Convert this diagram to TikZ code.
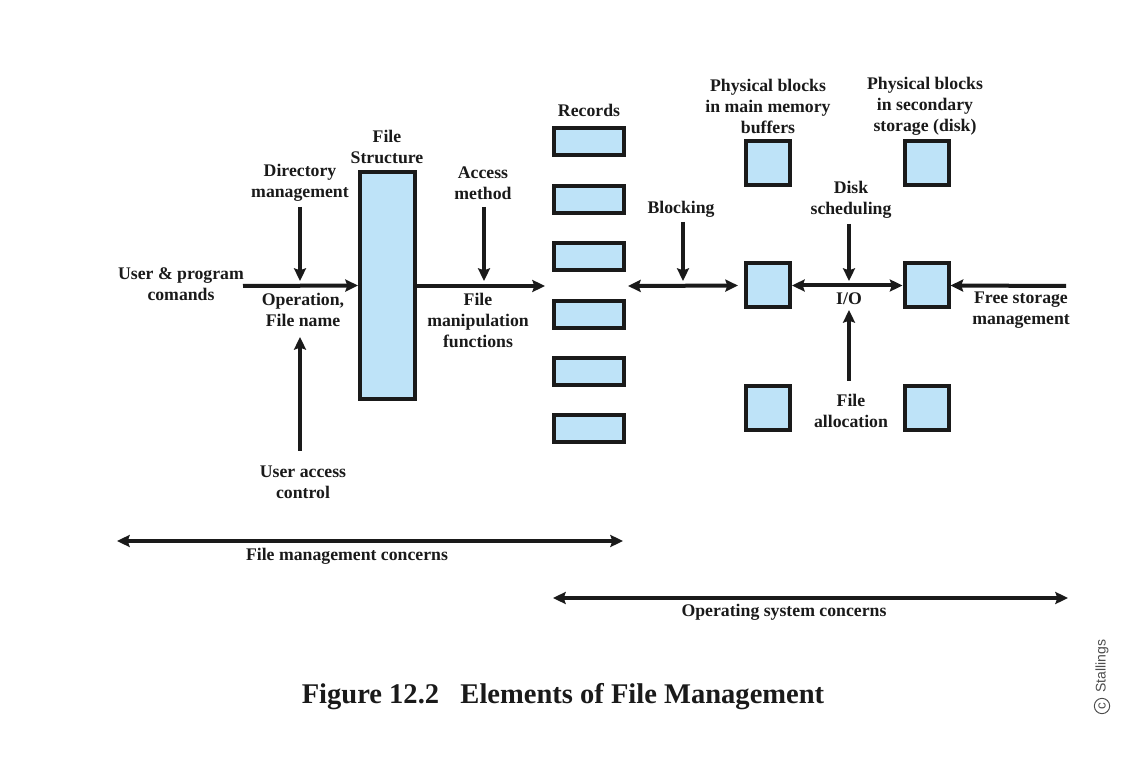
\documentclass[tikz,border=0pt]{standalone}
\usepackage{fontspec}
\setmainfont{Liberation Serif}
\setsansfont{Liberation Sans}
\usetikzlibrary{arrows.meta}
\definecolor{boxblue}{HTML}{BEE3F8}
\definecolor{ink}{HTML}{1A1A1A}
\begin{document}
\begin{tikzpicture}[x=0.75pt,y=-0.75pt,
  lbl/.style={font=\fontsize{13.3pt}{15.75pt}\selectfont\bfseries, text=ink, align=center, inner sep=0pt},
  blk/.style={draw=ink, fill=boxblue, line width=3pt, inner sep=0pt},
  rec/.style={blk, minimum width=52.5pt, minimum height=20.25pt},
  sq/.style={blk, minimum width=33pt, minimum height=33pt},
  arr/.style={draw=ink, line width=3pt, -{Stealth[length=9.5pt,width=9pt,inset=1.5pt]}},
  dbl/.style={draw=ink, line width=3pt, {Stealth[length=9.5pt,width=9pt,inset=1.5pt]}-{Stealth[length=9.5pt,width=9pt,inset=1.5pt]}}
]
\useasboundingbox (0,0) rectangle (1146,766);

% file structure column
\node[blk, minimum width=41.25pt, minimum height=170.25pt] (fs) at (387.5,285.5) {};

% records
\foreach \i/\y in {1/142,2/199.4,3/256.8,4/314.2,5/371.6,6/429}
  \node[rec] (r\i) at (589,\y) {};

% physical blocks: main memory buffers and secondary storage
\foreach \i/\y in {1/163.5,2/285.5,3/408.5}{
  \node[sq] (mem\i) at (768,\y) {};
  \node[sq] (disk\i) at (926.5,\y) {};
}

% labels
\node[lbl] (ucmd) at (181,284.5) {User \& program\\comands};
\node[lbl] (dirm) at (300,183) {Directory\\management};
\node[lbl] (fslab) at (387,147) {File\\Structure};
\node[lbl] (opfn) at (303,310) {Operation,\\File name};
\node[lbl] (uac) at (303,482) {User access\\control};
\node[lbl] (acc) at (483,183) {Access\\method};
\node[lbl] (fmf) at (478,320) {File\\manipulation\\functions};
\node[lbl] (reclab) at (589,110) {Records};
\node[lbl] (blocking) at (681,209) {Blocking};
\node[lbl] (pbm) at (768,106) {Physical blocks\\in main memory\\buffers};
\node[lbl] (pbd) at (925,106) {Physical blocks\\in secondary\\storage (disk)};
\node[lbl] (dsched) at (851,200) {Disk\\scheduling};
\node[lbl] (io) at (849,299) {I/O};
\node[lbl] (falloc) at (851,410.5) {File\\allocation};
\node[lbl] (fsm) at (1021,310) {Free storage\\management};
\node[lbl] (fmc) at (347,556) {File management concerns};
\node[lbl] (osc) at (784,612) {Operating system concerns};

% caption and credit
\node[font=\fontsize{21.4pt}{25pt}\selectfont\bfseries, text=ink, inner sep=0pt] (cap) at (563,697)
  {Figure 12.2\hspace{16pt}Elements of File Management};
\node[font=\sffamily\fontsize{10.5pt}{12pt}\selectfont, text=black!70, rotate=90, inner sep=0pt] (credit) at (1102,666) {Stallings};
\node[circle, draw=black!70, line width=0.7pt, inner sep=0pt, minimum size=11.5pt, rotate=90,
      font=\sffamily\fontsize{10pt}{10pt}\selectfont, text=black!70] (copy) at (1102,706) {c};

% connector end points
\coordinate (ucmdL) at (243,286);
\coordinate (fmfR) at (545,286);
\coordinate (blkL) at (628,286);
\coordinate (fsmR) at (1066,286);
\coordinate (dirT) at (300,207);
\coordinate (dirB) at (300,281);
\coordinate (uacB) at (300,451);
\coordinate (uacT) at (300,337);
\coordinate (accT) at (484,207);
\coordinate (accB) at (484,281);
\coordinate (blkT) at (683,222);
\coordinate (blkB) at (683,281);
\coordinate (dsT) at (849,224);
\coordinate (dsB) at (849,281);
\coordinate (faB) at (849,381);
\coordinate (faT) at (849,310);
\coordinate (fmcL) at (117,541);
\coordinate (fmcR) at (623,541);
\coordinate (oscL) at (553,598);
\coordinate (oscR) at (1068,598);

% main flow
\draw[arr] (ucmdL) -- (fs.west);
\draw[arr] (fs.east |- fmfR) -- (fmfR);
\draw[dbl, shorten >=4.5pt] (blkL) -- (mem2.west);
\draw[dbl] (mem2.east) -- (disk2.west);
\draw[arr] (fsmR) -- (disk2.east);

% vertical influences
\draw[arr] (dirT) -- (dirB);
\draw[arr] (uacB) -- (uacT);
\draw[arr] (accT) -- (accB);
\draw[arr] (blkT) -- (blkB);
\draw[arr] (dsT) -- (dsB);
\draw[arr] (faB) -- (faT);

% scope of concerns
\draw[dbl] (fmcL) -- (fmcR);
\draw[dbl] (oscL) -- (oscR);
\end{tikzpicture}
\end{document}
